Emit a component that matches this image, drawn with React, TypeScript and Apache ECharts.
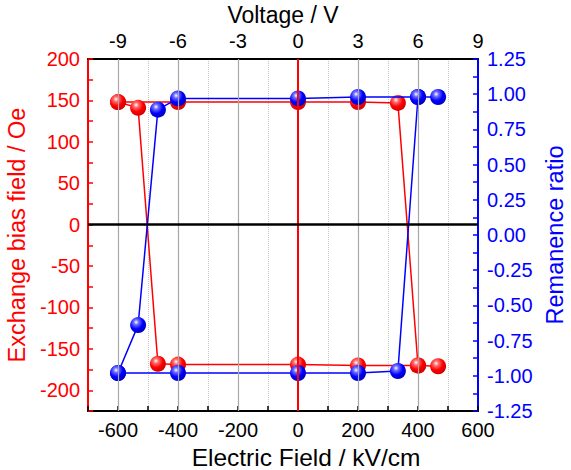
import React, { useEffect, useRef } from "react";
import * as echarts from "echarts";

// Electric field (kV/cm), sweep order: forward from -600 to 467, then back to -600
const fieldValues = [-600, -400, 0, 200, 333, 400, 467, 400, 200, 0, -400, -467, -533, -600];
// Exchange bias field (Oe)
const exchangeBias = [148, 148, 148, 148, 147, -170, -171, -170, -170, -169, -169, -168, 141, 148];
// Remanence ratio
const remanence = [-0.98, -0.98, -0.98, -0.98, -0.966, 0.98, 0.98, 0.98, 0.98, 0.97, 0.97, 0.89, -0.64, -0.98];
// Solid grid lines (at the voltage ticks)
const gridFields = [-600, -400, -200, 200, 400];

const FONT = "'Liberation Sans', Arial, sans-serif";

function sphere(base: string, light: string, dark: string) {
  return new echarts.graphic.RadialGradient(0.38, 0.32, 0.7, [
    { offset: 0, color: "#ffffff" },
    { offset: 0.22, color: light },
    { offset: 0.6, color: base },
    { offset: 1, color: dark },
  ]);
}

export default function App() {
  const ref = useRef<HTMLDivElement>(null);
  useEffect(() => {
    if (!ref.current) return;
    const chart = echarts.init(ref.current, null, { renderer: "svg" });
    const redPts = fieldValues.map((x, i) => [x, exchangeBias[i]]);
    const bluePts = fieldValues.map((x, i) => [x, remanence[i]]);
    chart.setOption({
      animation: false,
      grid: { left: 88, right: 93, top: 59, bottom: 59, containLabel: false, outerBoundsMode: "none" },
      xAxis: [
        {
          type: "value",
          position: "bottom",
          min: -700,
          max: 600,
          interval: 100,
          name: "Electric Field / kV/cm",
          nameLocation: "middle",
          nameGap: 32,
          nameTextStyle: { color: "#000", fontSize: 24.5, fontFamily: FONT, padding: [0, 0, 0, 46] },
          axisLine: { onZero: false, lineStyle: { color: "#000", width: 2 } },
          axisTick: { inside: true, length: 5, lineStyle: { color: "#000", width: 1.5 } },
          axisLabel: {
            color: "#000",
            fontSize: 20,
            fontFamily: FONT,
            margin: 9,
            formatter: (v: number) => (v % 200 === 0 ? String(v) : ""),
          },
          splitLine: { show: true, lineStyle: { color: "#c8c8c8", type: "dotted", width: 1 } },
        },
        {
          type: "value",
          position: "top",
          min: -10.5,
          max: 9,
          interval: 1.5,
          name: "Voltage / V",
          nameLocation: "middle",
          nameGap: 31,
          nameTextStyle: { color: "#000", fontSize: 23, fontFamily: FONT },
          axisLine: { onZero: false, lineStyle: { color: "#000", width: 2 } },
          axisTick: { show: false },
          axisLabel: {
            color: "#000",
            fontSize: 20,
            fontFamily: FONT,
            margin: 8,
            formatter: (v: number) => (Math.abs(v % 3) < 1e-9 ? String(v) : ""),
          },
          splitLine: { show: false },
        },
      ],
      yAxis: [
        {
          type: "value",
          position: "left",
          min: -225,
          max: 200,
          interval: 25,
          name: "Exchange bias field / Oe",
          nameLocation: "middle",
          nameGap: 54,
          nameTextStyle: { color: "#ff0000", fontSize: 23.5, fontFamily: FONT },
          axisLine: { show: true, onZero: false, lineStyle: { color: "#ff0000", width: 2 } },
          axisTick: { show: true, inside: true, length: 5, lineStyle: { color: "#ff0000", width: 1.5 } },
          axisLabel: {
            color: "#ff0000",
            fontSize: 20,
            fontFamily: FONT,
            margin: 8,
            formatter: (v: number) => (v % 50 === 0 ? String(v) : ""),
          },
          splitLine: { show: false },
        },
        {
          type: "value",
          position: "right",
          min: -1.25,
          max: 1.25,
          interval: 0.125,
          name: "Remanence ratio",
          nameLocation: "middle",
          nameGap: 65,
          nameTextStyle: { color: "#0000ff", fontSize: 23.5, fontFamily: FONT },
          axisLine: { show: true, onZero: false, lineStyle: { color: "#0000ff", width: 2 } },
          axisTick: { show: true, inside: true, length: 5, lineStyle: { color: "#0000ff", width: 1.5 } },
          axisLabel: {
            color: "#0000ff",
            fontSize: 20,
            fontFamily: FONT,
            margin: 9,
            formatter: (v: number) =>
              Math.abs((v / 0.25) - Math.round(v / 0.25)) < 1e-9 ? v.toFixed(2) : "",
          },
          splitLine: { show: false },
        },
      ],
      series: [
        {
          type: "line",
          xAxisIndex: 0,
          yAxisIndex: 0,
          data: [],
          z: 1,
          silent: true,
          markLine: {
            silent: true,
            symbol: "none",
            label: { show: false },
            data: [
              ...gridFields.map((x) => ({ xAxis: x, lineStyle: { color: "#a8a8a8", width: 1.2, type: "solid" } })),
              { xAxis: 0, lineStyle: { color: "#ff0000", width: 2, type: "solid" } },
              { yAxis: 0, lineStyle: { color: "#000000", width: 2.5, type: "solid" } },
            ],
          },
        },
        {
          name: "Exchange bias",
          type: "line",
          xAxisIndex: 0,
          yAxisIndex: 0,
          data: redPts,
          z: 3,
          symbol: "circle",
          symbolSize: 16,
          lineStyle: { color: "#ff0000", width: 1.5 },
          itemStyle: { color: sphere("#ff0000", "#ff7070", "#d00000"), borderWidth: 0 },
        },
        {
          name: "Remanence",
          type: "line",
          xAxisIndex: 0,
          yAxisIndex: 1,
          data: bluePts,
          z: 4,
          symbol: "circle",
          symbolSize: 16,
          lineStyle: { color: "#0000ff", width: 1.5 },
          itemStyle: { color: sphere("#0000ff", "#7070ff", "#0000c0"), borderWidth: 0 },
        },
      ],
    });
    return () => chart.dispose();
  }, []);
  return (
    <div
      ref={ref}
      style={{ position: "fixed", left: 0, top: 0, width: 571, height: 470, background: "#fff" }}
    />
  );
}
